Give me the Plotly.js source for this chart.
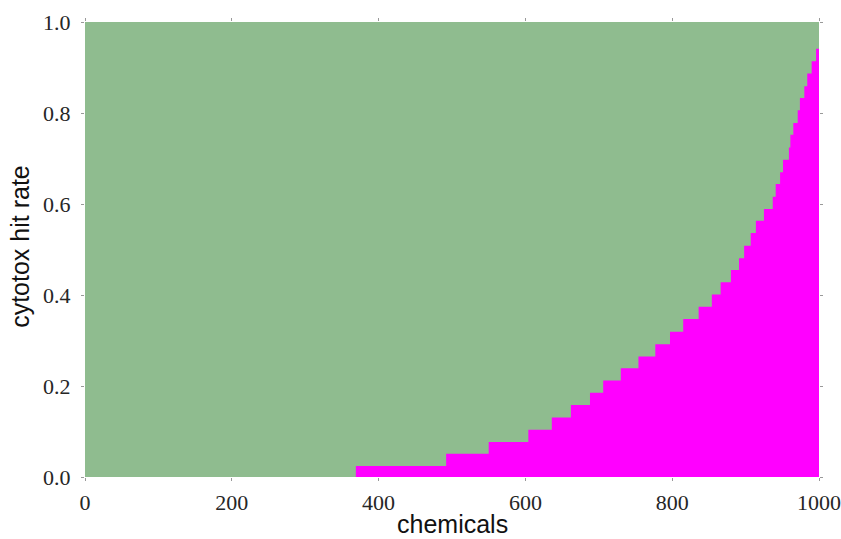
<!DOCTYPE html>
<html>
<head>
<meta charset="utf-8">
<script src="https://cdn.plot.ly/plotly-3.0.1.min.js"></script>
<style>html,body{margin:0;padding:0;background:#fff;}#chart{width:841px;height:539px;}</style>
</head>
<body>
<div id="chart"></div>
<script>
// Step start (chemical rank) and cytotox hit rate level from that rank on
const stepStarts = [0, 369, 492, 550, 604, 636, 662, 688, 706, 730, 754, 777, 797, 815, 836, 854, 866, 880, 891, 898, 907, 914, 925, 937, 941, 947, 951, 959, 961, 965, 971, 974, 980, 984, 990, 996, 1000];
const hitRates   = [0, 0.024, 0.051, 0.077, 0.104, 0.131, 0.158, 0.185, 0.212, 0.239, 0.265, 0.292, 0.319, 0.347, 0.374, 0.401, 0.428, 0.455, 0.481, 0.508, 0.536, 0.563, 0.589, 0.616, 0.644, 0.670, 0.697, 0.724, 0.752, 0.778, 0.806, 0.833, 0.859, 0.887, 0.914, 0.941, 0.941];
const chemRange = [0, 1000];
const fullRate = [1, 1];
const xTicks = [0, 200, 400, 600, 800, 1000];
const yTicks = [0.0, 0.2, 0.4, 0.6, 0.8, 1.0];
const xTitle = 'chemicals';
const yTitle = 'cytotox hit rate';

const green = {
  x: chemRange, y: fullRate, type: 'scatter', mode: 'lines',
  line: {width: 0, color: '#8fbc8f'}, fill: 'tozeroy', fillcolor: '#8fbc8f',
  hoverinfo: 'skip', showlegend: false
};
const magenta = {
  x: stepStarts, y: hitRates, type: 'scatter', mode: 'lines',
  line: {shape: 'hv', width: 0, color: '#ff00ff'}, fill: 'tozeroy', fillcolor: '#ff00ff',
  showlegend: false
};

const tickFont = {family: '"Liberation Serif", "Times New Roman", serif', size: 22, color: '#262626'};
const titleFont = {family: '"Liberation Sans", Arial, Helvetica, sans-serif', size: 25, color: '#111'};

const layout = {
  width: 841, height: 539,
  margin: {l: 85, r: 22, t: 22, b: 62},
  paper_bgcolor: '#fff', plot_bgcolor: '#fff',
  xaxis: {
    range: chemRange, tickvals: xTicks, ticktext: xTicks.map(String),
    showgrid: false, zeroline: false, showline: false,
    ticks: 'outside', ticklen: 3, tickwidth: 1, tickcolor: '#999', mirror: 'ticks',
    tickfont: tickFont, ticklabelstandoff: 3, ticklabeloverflow: 'allow',
    automargin: false
  },
  yaxis: {
    range: [0, 1], tickvals: yTicks, ticktext: yTicks.map(v => v.toFixed(1)),
    showgrid: false, zeroline: false, showline: false,
    ticks: 'outside', ticklen: 3, tickwidth: 1, tickcolor: '#999', mirror: 'ticks',
    tickfont: tickFont, ticklabelstandoff: 6, ticklabeloverflow: 'allow',
    automargin: false
  },
  annotations: [
    {text: xTitle, xref: 'paper', yref: 'paper', x: 0.5, y: -0.103,
     xanchor: 'center', yanchor: 'middle', showarrow: false, font: titleFont},
    {text: yTitle, xref: 'paper', yref: 'paper', x: -0.0886, y: 0.508, textangle: -90,
     xanchor: 'center', yanchor: 'middle', showarrow: false, font: titleFont}
  ]
};

Plotly.newPlot('chart', [green, magenta], layout, {displayModeBar: false, staticPlot: true});
</script>
</body>
</html>
